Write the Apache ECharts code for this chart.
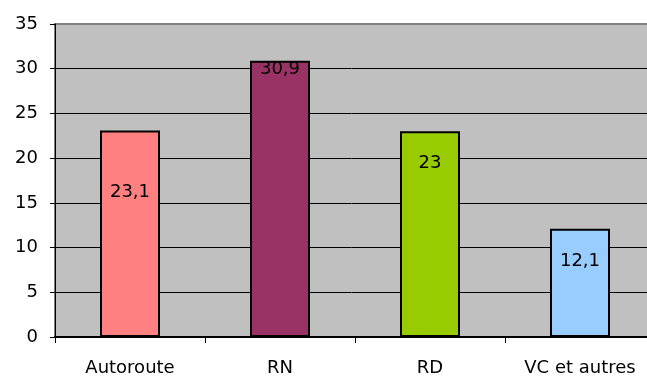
<!DOCTYPE html>
<html>
<head>
<meta charset="utf-8">
<script src="https://cdn.jsdelivr.net/npm/echarts@6/dist/echarts.min.js"></script>
<style>
  html, body { margin: 0; padding: 0; background: #fff; }
  #main { width: 647px; height: 378px; }
</style>
</head>
<body>
<div id="main"></div>
<script>
// données du graphique
const categories = ['Autoroute', 'RN', 'RD', 'VC et autres']
const values = [23.1, 30.9, 23, 12.1]
const barColors = ['#FF8080', '#993366', '#99CC00', '#99CCFF']
// décalage vertical des étiquettes (placées à la main dans l'original)
const labelOffsets = [53, 0, 23, 24]

const chart = echarts.init(document.getElementById('main'))

const option = {
  animation: false,
  textStyle: { fontFamily: 'DejaVu Sans, sans-serif' },
  grid: {
    left: 55, top: 24, width: 600, height: 313,
    outerBoundsMode: 'none',
    containLabel: false,
    show: true,
    backgroundColor: '#C0C0C0',
    borderColor: '#808080',
    borderWidth: 2
  },
  xAxis: {
    type: 'category',
    data: categories,
    axisLine: { lineStyle: { color: '#000', width: 2 } },
    axisTick: { show: true, length: 6, lineStyle: { color: '#000' } },
    axisLabel: { color: '#000', fontSize: 18, margin: 22 }
  },
  yAxis: {
    type: 'value',
    min: 0, max: 35, interval: 5,
    axisLine: { show: true, lineStyle: { color: '#000' } },
    axisTick: { show: true, length: 5, lineStyle: { color: '#000' } },
    axisLabel: { color: '#000', fontSize: 18, margin: 17 },
    // la dernière ligne (35) reste grise comme le cadre
    splitLine: { lineStyle: { color: ['#000', '#000', '#000', '#000', '#000', '#000', '#000', '#808080'], width: 1 } }
  },
  series: [{
    type: 'bar',
    barWidth: 60,
    data: values.map((v, i) => ({
      value: v,
      itemStyle: { color: barColors[i], borderColor: '#000', borderWidth: 2 },
      label: { offset: [0, labelOffsets[i]] }
    })),
    label: {
      show: true,
      position: 'insideTop',
      distance: 0,
      color: '#000',
      fontSize: 18,
      formatter: p => String(p.value).replace('.', ',')
    }
  }]
}

chart.setOption(option)
</script>
</body>
</html>
